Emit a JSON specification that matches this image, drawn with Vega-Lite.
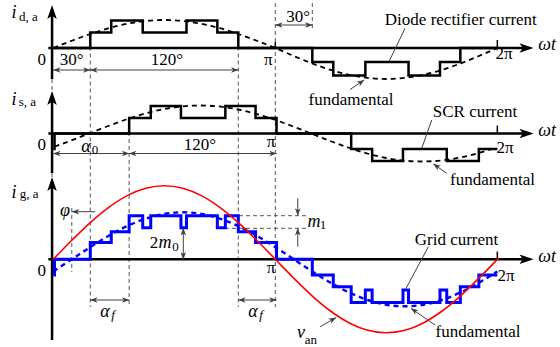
{
"$schema":"https://vega.github.io/schema/vega-lite/v6.json",
"width":560,"height":347,"padding":0,"autosize":{"type":"none"},
"background":"white",
"config":{"view":{"stroke":null},"text":{"font":"Liberation Serif"}},
"datasets":{
"dash":[
{"x":30,"y":314.5,"x2":30,"y2":40},{"x":61.5,"y":229,"x2":61.5,"y2":40},{"x":150,"y":314.5,"x2":150,"y2":40},
{"x":180,"y":344,"x2":180,"y2":40},{"x":210,"y":344,"x2":210,"y2":317},{"x":15,"y":139,"x2":15,"y2":75},
{"x":139.2,"y":131.3,"x2":205.7,"y2":131.3},{"x":139.2,"y":118.7,"x2":205.7,"y2":118.7},
{"x":-1,"y":268,"x2":-1,"y2":249},{"x":-1,"y":174,"x2":-1,"y2":163}],
"axes":[
{"x":-1,"y":336,"x2":-1,"y2":268},{"x":-1,"y":250,"x2":-1,"y2":174},{"x":-1,"y":164,"x2":-1,"y2":7},
{"x":-4,"y":299,"x2":384,"y2":299},{"x":-4,"y":213.5,"x2":384,"y2":213.5},{"x":-4,"y":87.7,"x2":384,"y2":87.7}],
"ticks":[
{"x":360,"y":299,"x2":360,"y2":307},{"x":360,"y":213.5,"x2":360,"y2":221.5},{"x":360,"y":87.7,"x2":360,"y2":95.5},{"x":180,"y":299,"x2":180,"y2":305}],
"dims":[
{"x":0,"y":277,"x2":30,"y2":277},{"x":30,"y":277,"x2":150,"y2":277},{"x":180,"y":322,"x2":210,"y2":322},
{"x":0,"y":193.5,"x2":61.5,"y2":193.5},{"x":61.5,"y":193.5,"x2":181,"y2":193.5},
{"x":30,"y":47,"x2":61.5,"y2":47},{"x":150,"y":47,"x2":181,"y2":47},
{"x":15.2,"y":135.3,"x2":33.8,"y2":135.3},
{"x":198.2,"y":148.7,"x2":198.2,"y2":131.5},{"x":198.2,"y":100.3,"x2":198.2,"y2":118.7},
{"x":105.4,"y":118.7,"x2":105.4,"y2":87.7},
{"x":285.2,"y":318.7,"x2":272.0,"y2":285},{"x":306.8,"y":227,"x2":298.7,"y2":198.7},{"x":304.1,"y":100.3,"x2":286.0,"y2":58.7},
{"x":240.6,"y":257.5,"x2":251.9,"y2":267},{"x":319.0,"y":173.7,"x2":308.1,"y2":183},
{"x":309.5,"y":22,"x2":290.0,"y2":38.7},{"x":216.3,"y":20.3,"x2":229.2,"y2":29.3}],
"hs":[
{"x":2.84,"y":277,"a":270},{"x":27.16,"y":277,"a":90},{"x":32.84,"y":277,"a":270},{"x":147.16,"y":277,"a":90},
{"x":182.84,"y":322,"a":270},{"x":207.16,"y":322,"a":90},
{"x":2.84,"y":193.5,"a":270},{"x":58.66,"y":193.5,"a":90},{"x":64.34,"y":193.5,"a":270},{"x":178.16,"y":193.5,"a":90},
{"x":32.84,"y":47,"a":270},{"x":58.66,"y":47,"a":90},{"x":152.84,"y":47,"a":270},{"x":178.16,"y":47,"a":90},
{"x":18.0,"y":135.3,"a":270},
{"x":198.2,"y":135,"a":180},{"x":198.2,"y":115.2,"a":0},
{"x":105.4,"y":115.2,"a":0},{"x":105.4,"y":91.2,"a":180},
{"x":249.6,"y":265,"a":55.8},{"x":310.5,"y":181,"a":-55.2},{"x":292.4,"y":36.7,"a":-55.2},{"x":226.7,"y":27.6,"a":60.6}],
"hb":[
{"x":-1,"y":335,"a":0},{"x":-1,"y":249,"a":0},{"x":-1,"y":163,"a":0},
{"x":383.7,"y":299,"a":90},{"x":383.7,"y":213.5,"a":90},{"x":383.7,"y":87.7,"a":90}],
"steps":[
{"s":"d","x":0,"y":299},{"s":"d","x":30,"y":299},{"s":"d","x":30,"y":314.5},{"s":"d","x":47,"y":314.5},{"s":"d","x":47,"y":326.5},{"s":"d","x":72.5,"y":326.5},{"s":"d","x":72.5,"y":314.5},{"s":"d","x":108,"y":314.5},{"s":"d","x":108,"y":326.5},{"s":"d","x":133,"y":326.5},{"s":"d","x":133,"y":314.5},{"s":"d","x":150,"y":314.5},{"s":"d","x":150,"y":299},{"s":"d","x":210,"y":299},{"s":"d","x":210,"y":285},{"s":"d","x":227,"y":285},{"s":"d","x":227,"y":271.5},{"s":"d","x":253,"y":271.5},{"s":"d","x":253,"y":285},{"s":"d","x":288,"y":285},{"s":"d","x":288,"y":271.5},{"s":"d","x":313.5,"y":271.5},{"s":"d","x":313.5,"y":285},{"s":"d","x":330,"y":285},{"s":"d","x":330,"y":299},{"s":"d","x":360,"y":299},
{"s":"s","x":0,"y":198},{"s":"s","x":1,"y":198},{"s":"s","x":1,"y":213.5},{"s":"s","x":61.5,"y":213.5},{"s":"s","x":61.5,"y":229},{"s":"s","x":79,"y":229},{"s":"s","x":79,"y":241},{"s":"s","x":103.5,"y":241},{"s":"s","x":103.5,"y":229},{"s":"s","x":139.5,"y":229},{"s":"s","x":139.5,"y":241},{"s":"s","x":164,"y":241},{"s":"s","x":164,"y":229},{"s":"s","x":181,"y":229},{"s":"s","x":181,"y":213.5},{"s":"s","x":241.5,"y":213.5},{"s":"s","x":241.5,"y":198},{"s":"s","x":258.5,"y":198},{"s":"s","x":258.5,"y":186},{"s":"s","x":283.5,"y":186},{"s":"s","x":283.5,"y":198},{"s":"s","x":319,"y":198},{"s":"s","x":319,"y":186},{"s":"s","x":345,"y":186},{"s":"s","x":345,"y":198},{"s":"s","x":360,"y":198}],
"fk":[
{"s":"d","x":0,"y":299},{"s":"d","x":15,"y":306.25},{"s":"d","x":30,"y":313},{"s":"d","x":45,"y":318.8},{"s":"d","x":60,"y":323.25},{"s":"d","x":75,"y":326.05},{"s":"d","x":90,"y":327},{"s":"d","x":105,"y":326.05},{"s":"d","x":120,"y":323.25},{"s":"d","x":135,"y":318.8},{"s":"d","x":150,"y":313},{"s":"d","x":165,"y":306.25},{"s":"d","x":180,"y":299},{"s":"d","x":195,"y":290.98},{"s":"d","x":210,"y":283.5},{"s":"d","x":225,"y":277.08},{"s":"d","x":240,"y":272.15},{"s":"d","x":255,"y":269.06},{"s":"d","x":270,"y":268},{"s":"d","x":285,"y":269.06},{"s":"d","x":300,"y":272.15},{"s":"d","x":315,"y":277.08},{"s":"d","x":330,"y":283.5},{"s":"d","x":345,"y":290.98},{"s":"d","x":360,"y":299},
{"s":"s","x":1,"y":200.35},{"s":"s","x":14,"y":206.25},{"s":"s","x":29,"y":213.5},{"s":"s","x":44,"y":220.75},{"s":"s","x":59,"y":227.5},{"s":"s","x":74,"y":233.3},{"s":"s","x":89,"y":237.75},{"s":"s","x":104,"y":240.55},{"s":"s","x":119,"y":241.5},{"s":"s","x":134,"y":240.55},{"s":"s","x":149,"y":237.75},{"s":"s","x":164,"y":233.3},{"s":"s","x":179,"y":227.5},{"s":"s","x":194,"y":220.75},{"s":"s","x":209,"y":213.5},{"s":"s","x":224,"y":206.25},{"s":"s","x":239,"y":199.5},{"s":"s","x":254,"y":193.7},{"s":"s","x":269,"y":189.25},{"s":"s","x":284,"y":186.45},{"s":"s","x":299,"y":185.5},{"s":"s","x":314,"y":186.45},{"s":"s","x":329,"y":189.25},{"s":"s","x":344,"y":193.7},{"s":"s","x":359,"y":199.5}],
"grid":[
{"x":0,"y":72},{"x":1,"y":72},{"x":1,"y":87.7},{"x":30,"y":87.7},{"x":30,"y":104.5},{"x":47,"y":104.5},{"x":47,"y":115.2},{"x":61.5,"y":115.2},{"x":61.5,"y":131.2},{"x":72.5,"y":131.2},{"x":72.5,"y":119.3},{"x":79,"y":119.3},{"x":79,"y":131.2},{"x":103.5,"y":131.2},{"x":103.5,"y":119.3},{"x":108,"y":119.3},{"x":108,"y":131.2},{"x":133,"y":131.2},{"x":133,"y":119.3},{"x":139.5,"y":119.3},{"x":139.5,"y":131.2},{"x":150,"y":131.2},{"x":150,"y":115.2},{"x":164,"y":115.2},{"x":164,"y":104.5},{"x":181,"y":104.5},{"x":181,"y":87.7},{"x":210,"y":87.7},{"x":210,"y":72},{"x":227,"y":72},{"x":227,"y":60.2},{"x":241.5,"y":60.2},{"x":241.5,"y":44.5},{"x":253,"y":44.5},{"x":253,"y":57},{"x":258.5,"y":57},{"x":258.5,"y":44.5},{"x":283.5,"y":44.5},{"x":283.5,"y":57},{"x":288,"y":57},{"x":288,"y":44.5},{"x":313.5,"y":44.5},{"x":313.5,"y":57},{"x":319,"y":57},{"x":319,"y":44.5},{"x":330,"y":44.5},{"x":330,"y":60.2},{"x":345,"y":60.2},{"x":345,"y":72},{"x":360,"y":72}],
"fb":[
{"x":0,"y":75.54},{"x":15,"y":87.7},{"x":30,"y":99.86},{"x":45,"y":111.2},{"x":60,"y":120.93},{"x":75,"y":128.4},{"x":90,"y":133.1},{"x":105,"y":134.7},{"x":120,"y":133.1},{"x":135,"y":128.4},{"x":150,"y":120.93},{"x":165,"y":111.2},{"x":180,"y":99.86},{"x":195,"y":87.7},{"x":210,"y":75.54},{"x":225,"y":64.2},{"x":240,"y":54.47},{"x":255,"y":47.0},{"x":270,"y":42.3},{"x":285,"y":40.7},{"x":300,"y":42.3},{"x":315,"y":47.0},{"x":330,"y":54.47},{"x":345,"y":64.2},{"x":360,"y":75.54}],
"van":[
{"x":0,"y":87.7},{"x":15,"y":106.7},{"x":30,"y":124.45},{"x":45,"y":139.67},{"x":60,"y":151.35},{"x":75,"y":158.7},{"x":90,"y":161.2},{"x":105,"y":158.7},{"x":120,"y":151.35},{"x":135,"y":139.67},{"x":150,"y":124.45},{"x":165,"y":106.7},{"x":180,"y":87.7},{"x":195,"y":68.7},{"x":210,"y":50.95},{"x":225,"y":35.73},{"x":240,"y":24.05},{"x":255,"y":16.7},{"x":270,"y":14.2},{"x":285,"y":16.7},{"x":300,"y":24.05},{"x":315,"y":35.73},{"x":330,"y":50.95},{"x":345,"y":68.7},{"x":361,"y":88.98}],
"tr17":[
{"t":"0","x":-9.4,"y":287.5},{"t":"30°","x":14.9,"y":287.5},{"t":"120°","x":92.2,"y":287.5},{"t":"π","x":174.3,"y":287.5},
{"t":"30°","x":198.5,"y":330},{"t":"2π","x":365.4,"y":293},{"t":"Diode rectifier current","x":330.4,"y":327},{"t":"fundamental","x":241.4,"y":247},
{"t":"0","x":-9.4,"y":202},{"t":"120°","x":118.9,"y":202.5},{"t":"π","x":176.5,"y":205},{"t":"2π","x":366.2,"y":198.7},
{"t":"SCR current","x":341.9,"y":235.3},{"t":"fundamental","x":356.1,"y":167},
{"t":"0","x":-9.4,"y":76.5},{"t":"π","x":176.5,"y":79},{"t":"2π","x":367,"y":71},{"t":"Grid current","x":326.9,"y":107},{"t":"fundamental","x":344.4,"y":15.3},{"t":"2","x":81.7,"y":104}],
"ti17":[
{"t":"i","x":-31.9,"y":334},{"t":"i","x":-31.9,"y":247},{"t":"i","x":-31.9,"y":153.7},
{"t":"ωt","x":400.3,"y":302},{"t":"ωt","x":400.3,"y":216},{"t":"ωt","x":400.3,"y":90},
{"t":"α","x":26.5,"y":200.3},{"t":"α","x":41.9,"y":35.3},{"t":"α","x":161.9,"y":35.3},
{"t":"φ","x":9.5,"y":136},{"t":"m","x":90.6,"y":104},{"t":"m","x":211.4,"y":125.3},{"t":"v","x":200.8,"y":14}],
"tr12":[
{"t":"d, a","x":-20.1,"y":330},{"t":"s, a","x":-21.0,"y":245},{"t":"g, a","x":-19.5,"y":153},
{"t":"0","x":33.8,"y":197},{"t":"0","x":99.1,"y":100.5},{"t":"1","x":218.7,"y":122},{"t":"an","x":208.9,"y":7}],
"ti12":[{"t":"f","x":48.4,"y":32},{"t":"f","x":168.4,"y":32}]
},
"encoding":{
"x":{"field":"x","type":"quantitative","scale":{"domain":[-43.2,410.8],"nice":false,"zero":false},"axis":null},
"y":{"field":"y","type":"quantitative","scale":{"domain":[0,347],"nice":false,"zero":false},"axis":null}
},
"layer":[
{"data":{"name":"dash"},"mark":{"type":"rule","stroke":"#555555","strokeWidth":1,"strokeDash":[4,3]},"encoding":{"x2":{"field":"x2"},"y2":{"field":"y2"}}},
{"data":{"name":"axes"},"mark":{"type":"rule","stroke":"black","strokeWidth":2.5},"encoding":{"x2":{"field":"x2"},"y2":{"field":"y2"}}},
{"data":{"name":"ticks"},"mark":{"type":"rule","stroke":"black","strokeWidth":1.5},"encoding":{"x2":{"field":"x2"},"y2":{"field":"y2"}}},
{"data":{"name":"dims"},"mark":{"type":"rule","stroke":"#404040","strokeWidth":1},"encoding":{"x2":{"field":"x2"},"y2":{"field":"y2"}}},
{"data":{"name":"steps"},"mark":{"type":"line","stroke":"black","strokeWidth":2.5},"encoding":{"detail":{"field":"s"},"order":{"value":null}}},
{"data":{"name":"fk"},"mark":{"type":"line","stroke":"black","strokeWidth":1.8,"strokeDash":[5,4],"interpolate":"monotone"},"encoding":{"detail":{"field":"s"}}},
{"data":{"name":"grid"},"mark":{"type":"line","stroke":"#0000ff","strokeWidth":3},"encoding":{"order":{"value":null}}},
{"data":{"name":"fb"},"mark":{"type":"line","stroke":"#0000ff","strokeWidth":2.4,"strokeDash":[5,4],"interpolate":"monotone"}},
{"data":{"name":"van"},"mark":{"type":"line","stroke":"#ff0000","strokeWidth":1.6,"interpolate":"monotone"}},
{"data":{"name":"hb"},"mark":{"type":"point","filled":true,"color":"black","opacity":1,"size":196,"shape":"M0,-1L0.68,1L0,0.55L-0.68,1Z"},"encoding":{"angle":{"field":"a","type":"quantitative","scale":null}}},
{"data":{"name":"hs"},"mark":{"type":"point","filled":true,"color":"#404040","opacity":1,"size":56,"shape":"M0,-1L0.75,1L0,0.45L-0.75,1Z"},"encoding":{"angle":{"field":"a","type":"quantitative","scale":null}}},
{"data":{"name":"tr17"},"mark":{"type":"text","fontSize":17,"align":"center","baseline":"middle","color":"black"},"encoding":{"text":{"field":"t"}}},
{"data":{"name":"ti17"},"mark":{"type":"text","fontSize":18,"fontStyle":"italic","align":"center","baseline":"middle","color":"black"},"encoding":{"text":{"field":"t"}}},
{"data":{"name":"tr12"},"mark":{"type":"text","fontSize":13,"align":"center","baseline":"middle","color":"black"},"encoding":{"text":{"field":"t"}}},
{"data":{"name":"ti12"},"mark":{"type":"text","fontSize":13,"fontStyle":"italic","align":"center","baseline":"middle","color":"black"},"encoding":{"text":{"field":"t"}}}
]
}
